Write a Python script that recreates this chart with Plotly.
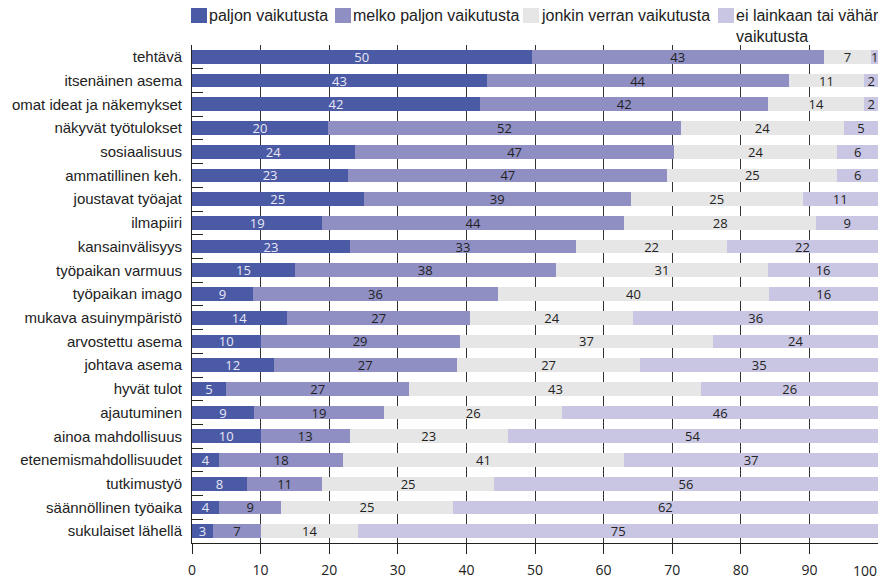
import plotly.graph_objects as go

categories = ["tehtävä", "itsenäinen asema", "omat ideat ja näkemykset", "näkyvät työtulokset",
              "sosiaalisuus", "ammatillinen keh.", "joustavat työajat", "ilmapiiri",
              "kansainvälisyys", "työpaikan varmuus", "työpaikan imago", "mukava asuinympäristö",
              "arvostettu asema", "johtava asema", "hyvät tulot", "ajautuminen",
              "ainoa mahdollisuus", "etenemismahdollisuudet", "tutkimustyö",
              "säännöllinen työaika", "sukulaiset lähellä"]

paljon = [50, 43, 42, 20, 24, 23, 25, 19, 23, 15, 9, 14, 10, 12, 5, 9, 10, 4, 8, 4, 3]
melko = [43, 44, 42, 52, 47, 47, 39, 44, 33, 38, 36, 27, 29, 27, 27, 19, 13, 18, 11, 9, 7]
jonkin = [7, 11, 14, 24, 24, 25, 25, 28, 22, 31, 40, 24, 37, 27, 43, 26, 23, 41, 25, 25, 14]
ei = [1, 2, 2, 5, 6, 6, 11, 9, 22, 16, 16, 36, 24, 35, 26, 46, 54, 37, 56, 62, 75]

names = ["paljon vaikutusta", "melko paljon vaikutusta", "jonkin verran vaikutusta",
         "ei lainkaan tai vähän<br>vaikutusta"]
colors = ["#4b5aa4", "#8f8fc4", "#e6e6e6", "#c9c6e3"]
text_colors = ["#e8e8f6", "#222222", "#222222", "#222222"]

x_ticks = list(range(0, 101, 10))
# the last label is drawn separately, right-aligned so it stays on the page
x_ticktext = [str(v) for v in x_ticks[:-1]] + [""]

# the page body has an 8px margin, so the figure is a bit smaller than the window
W, H = 878, 571
L, R, T, B = 184, 8, 37, 36
OFF = 8
LABEL_FONT = "Liberation Sans, Arial, sans-serif"

fig = go.Figure()
for name, vals, color, tcolor in zip(names, [paljon, melko, jonkin, ei], colors, text_colors):
    fig.add_trace(go.Bar(
        y=categories, x=vals, name=name, orientation="h",
        marker=dict(color=color, line=dict(width=0)),
        text=vals, texttemplate="%{text}", textposition="inside", textangle=0,
        insidetextanchor="middle", constraintext="none", cliponaxis=False,
        textfont=dict(family="Open Sans", size=13, color=tcolor),
        showlegend=False,
    ))

# hand-drawn legend (tight spacing as in the original)
def px_x(p):
    return (p - OFF - L) / (W - L - R)

def px_y(p):
    return (H - B - (p - OFF)) / (H - T - B)

legend_x = [191, 335, 523, 718]
for xpos, name, color in zip(legend_x, names, colors):
    fig.add_shape(type="rect", xref="paper", yref="paper",
                  x0=px_x(xpos), x1=px_x(xpos + 16), y0=px_y(23), y1=px_y(7),
                  fillcolor=color, line=dict(width=0))
    fig.add_annotation(text=name, xref="paper", yref="paper",
                       x=px_x(xpos + 17), y=px_y(6), xanchor="left", yanchor="top",
                       align="left", showarrow=False, borderpad=0,
                       font=dict(family=LABEL_FONT, size=16, color="#222222"))

fig.add_annotation(text=str(x_ticks[-1]), xref="x", yref="paper", x=x_ticks[-1], y=px_y(570),
                   xanchor="right", yanchor="middle", showarrow=False, borderpad=0,
                   font=dict(family="Open Sans", size=14, color="#222222"))

fig.update_layout(
    barmode="stack", barnorm="percent", bargap=0.42,
    width=W, height=H,
    margin=dict(l=L, r=R, t=T, b=B, autoexpand=False),
    plot_bgcolor="white", paper_bgcolor="white",
    font=dict(family=LABEL_FONT, size=15, color="#222222"),
    showlegend=False,
)
fig.update_xaxes(range=[0, 100], tickvals=x_ticks, ticktext=x_ticktext,
                 showgrid=True, gridcolor="#333333", gridwidth=1,
                 showline=True, linecolor="#222222", linewidth=1,
                 ticks="outside", ticklen=10, tickcolor="#222222", ticklabelstandoff=4,
                 tickfont=dict(family="Open Sans", size=14, color="#222222"),
                 ticklabeloverflow="allow", zeroline=False)
fig.update_yaxes(autorange="reversed", showline=True, mirror=True, linecolor="#222222", linewidth=1,
                 ticks="inside", ticklen=11, tickcolor="#222222", tickson="boundaries",
                 showgrid=False, ticklabelstandoff=6,
                 tickfont=dict(family=LABEL_FONT, size=15, color="#222222"))

fig.write_html("out.html")
